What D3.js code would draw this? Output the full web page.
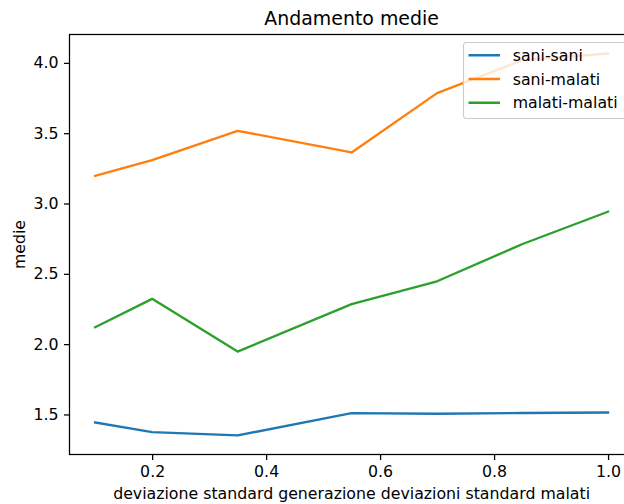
<!DOCTYPE html>
<html>
<head>
<meta charset="utf-8">
<script src="https://cdn.jsdelivr.net/npm/d3@7"></script>
<style>
  html, body { margin: 0; padding: 0; background: #fff; overflow: hidden; }
  svg { display: block; font-family: "DejaVu Sans", sans-serif; }
</style>
</head>
<body>
<div id="chart"></div>
<script>
// x values (deviazione standard) and the three series
const xValues = [0.1, 0.2, 0.35, 0.55, 0.7, 0.85, 1.0];
const saniSani = [1.443, 1.374, 1.351, 1.509, 1.505, 1.51, 1.514];
const saniMalati = [3.197, 3.309, 3.517, 3.363, 3.785, 4.02, 4.066];
const malatiMalati = [2.12, 2.322, 1.947, 2.284, 2.447, 2.712, 2.942];

const seriesNames = ['sani-sani', 'sani-malati', 'malati-malati'];
const seriesColors = ['#1f77b4', '#ff7f0e', '#2ca02c'];
const seriesValues = [saniSani, saniMalati, malatiMalati];

const xTicks = [0.2, 0.4, 0.6, 0.8, 1.0];
const yTicks = [1.5, 2.0, 2.5, 3.0, 3.5, 4.0];

const W = 624, H = 504;
const plot = { left: 69.5, right: 633.7, top: 34.5, bottom: 454.5 };
const pt = 1.136 * 100 / 72; // px per point in the source figure

// matplotlib style 5% margins
const allY = seriesValues.flat();
const yMin = d3.min(allY), yMax = d3.max(allY);
const yPad = (yMax - yMin) * 0.05;
const xPad = (d3.max(xValues) - d3.min(xValues)) * 0.05;

const x = d3.scaleLinear()
  .domain([d3.min(xValues) - xPad, d3.max(xValues) + xPad])
  .range([plot.left, plot.right]);
const y = d3.scaleLinear()
  .domain([yMin - yPad, yMax + yPad])
  .range([plot.bottom, plot.top]);

const svg = d3.select('#chart').append('svg')
  .attr('width', W)
  .attr('height', H);

const fontSize = 10 * pt;

// lines
const line = d3.line()
  .x((d, i) => x(xValues[i]))
  .y((d) => y(d));

svg.append('g').selectAll('path')
  .data(seriesValues)
  .join('path')
  .attr('d', line)
  .attr('fill', 'none')
  .attr('stroke', (d, i) => seriesColors[i])
  .attr('stroke-width', 1.5 * pt)
  .attr('stroke-linejoin', 'round')
  .attr('stroke-linecap', 'square');

// axes
const xAxis = d3.axisBottom(x)
  .tickValues(xTicks)
  .tickFormat(d3.format('.1f'))
  .tickSize(3.5 * pt)
  .tickPadding(3.5 * pt);
const yAxis = d3.axisLeft(y)
  .tickValues(yTicks)
  .tickFormat(d3.format('.1f'))
  .tickSize(3.5 * pt)
  .tickPadding(3.5 * pt);

const gx = svg.append('g')
  .attr('transform', `translate(0,${plot.bottom})`)
  .call(xAxis);
const gy = svg.append('g')
  .attr('transform', `translate(${plot.left},0)`)
  .call(yAxis);

[gx, gy].forEach((g) => {
  g.select('.domain').remove();
  g.selectAll('.tick line').attr('stroke', '#000').attr('stroke-width', 0.8 * pt);
  g.selectAll('.tick text')
    .attr('fill', '#000')
    .attr('font-family', '"DejaVu Sans", sans-serif')
    .attr('font-size', fontSize);
});

// spines
svg.append('rect')
  .attr('x', plot.left)
  .attr('y', plot.top)
  .attr('width', plot.right - plot.left)
  .attr('height', plot.bottom - plot.top)
  .attr('fill', 'none')
  .attr('stroke', '#000')
  .attr('stroke-width', 0.8 * pt);

// title and axis labels
svg.append('text')
  .attr('x', (plot.left + plot.right) / 2)
  .attr('y', 25)
  .attr('text-anchor', 'middle')
  .attr('font-size', 12 * pt)
  .text('Andamento medie');

svg.append('text')
  .attr('x', (plot.left + plot.right) / 2)
  .attr('y', 499)
  .attr('text-anchor', 'middle')
  .attr('font-size', fontSize)
  .text('deviazione standard generazione deviazioni standard malati');

svg.append('text')
  .attr('transform', `translate(25,${(plot.top + plot.bottom) / 2}) rotate(-90)`)
  .attr('text-anchor', 'middle')
  .attr('font-size', fontSize)
  .text('medie');

// legend (upper right)
const legend = svg.append('g');
const legBox = { x: 463.5, y: 42.5, w: 163, h: 76 };
legend.append('rect')
  .attr('x', legBox.x)
  .attr('y', legBox.y)
  .attr('width', legBox.w)
  .attr('height', legBox.h)
  .attr('rx', 3)
  .attr('fill', 'rgba(255,255,255,0.8)')
  .attr('stroke', '#cccccc')
  .attr('stroke-width', 1.1);

const rows = legend.selectAll('g.row')
  .data(seriesNames)
  .join('g')
  .attr('class', 'row')
  .attr('transform', (d, i) => `translate(0,${55.3 + i * 23.7})`);

rows.append('line')
  .attr('x1', 468.5)
  .attr('x2', 468.5 + 2 * fontSize)
  .attr('stroke', (d, i) => seriesColors[i])
  .attr('stroke-width', 1.5 * pt);

rows.append('text')
  .attr('x', 468.5 + 2.8 * fontSize)
  .attr('y', 5.5)
  .attr('font-size', fontSize)
  .text((d) => d);
</script>
</body>
</html>
